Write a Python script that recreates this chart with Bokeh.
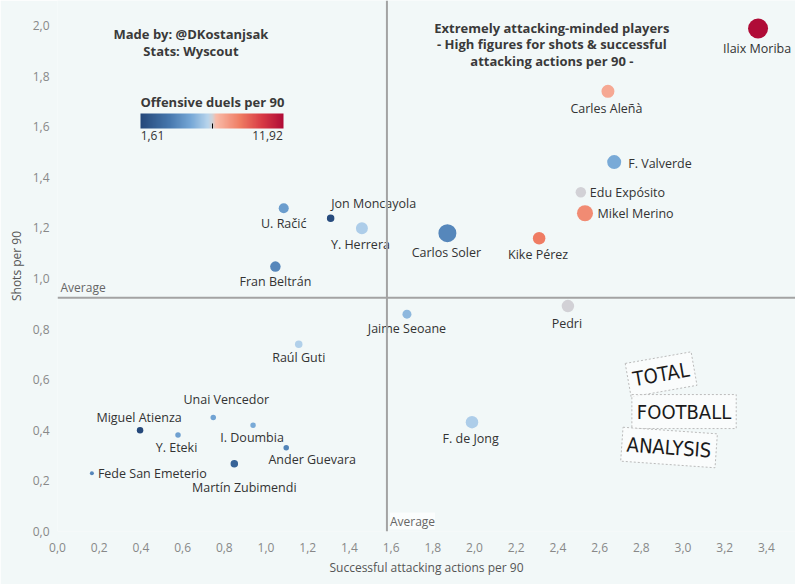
from bokeh.plotting import figure
from bokeh.models import (ColumnDataSource, LinearColorMapper, ColorBar, FixedTicker,
                          Span, Label, CustomJSTickFormatter, Range1d)
from bokeh.core.properties import value
from bokeh.embed import file_html
from bokeh.resources import INLINE

# ---------------- data ----------------
players = ["Ilaix Moriba", "Carles Aleñà", "F. Valverde", "Edu Expósito", "Mikel Merino",
           "Kike Pérez", "Carlos Soler", "Y. Herrera", "Jon Moncayola", "U. Račić",
           "Fran Beltrán", "Jaime Seoane", "Pedri", "Raúl Guti", "F. de Jong",
           "Unai Vencedor", "I. Doumbia", "Miguel Atienza", "Y. Eteki", "Ander Guevara",
           "Martín Zubimendi", "Fede San Emeterio"]
attacking_actions = [3.36, 2.64, 2.67, 2.51, 2.53, 2.31, 1.87, 1.46, 1.31, 1.085,
                     1.045, 1.676, 2.448, 1.157, 1.988, 0.747, 0.938, 0.396, 0.578, 1.097,
                     0.848, 0.165]
shots = [1.988, 1.740, 1.460, 1.341, 1.258, 1.159, 1.179, 1.199, 1.238, 1.278,
         1.047, 0.859, 0.891, 0.740, 0.432, 0.451, 0.420, 0.400, 0.381, 0.331,
         0.268, 0.230]
offensive_duels = [11.92, 7.6, 5.3, 6.77, 8.4, 8.8, 4.2, 6.25, 1.8, 4.9,
                   4.2, 5.7, 6.8, 6.35, 6.25, 5.1, 5.3, 1.61, 5.0, 4.1,
                   2.85, 4.2]
size_metric = [20, 13, 14, 10.5, 16, 12.5, 18, 12, 7.5, 10,
               10.5, 9, 12.5, 7.5, 12.5, 5.5, 5.5, 6.5, 5.5, 5.5,
               7.5, 4]
avg_attacking = 1.58
avg_shots = 0.924
duels_min, duels_max = 1.61, 11.92
duels_mid = 6.77
x_ticks = [0.0, 0.2, 0.4, 0.6, 0.8, 1.0, 1.2, 1.4, 1.6, 1.8, 2.0, 2.2, 2.4, 2.6, 2.8, 3.0, 3.2, 3.4]
y_ticks = [0.0, 0.2, 0.4, 0.6, 0.8, 1.0, 1.2, 1.4, 1.6, 1.8, 2.0]

# label placement (screen px, y down), alignment per player
label_dx = [-1, -1.5, 14, 9, 12.5, -1, -1, -1.5, 0.5, 0,
            0, 0, -1, 0, -1.3, 13, -1, -1, -1.5, 26,
            10, 6]
label_dy = [19.5, 17, 1, 0, 0, 16.5, 19.5, 16.5, -14.5, 15,
            14.7, 14, 17, 13.3, 16.6, -18, 12.5, -12.7, 12.3, 11.7,
            24, 0]
label_align = ["center", "center", "left", "left", "left", "center", "center", "center", "left", "center",
               "center", "center", "center", "center", "center", "center", "center", "center", "center", "center",
               "center", "left"]

# ---------------- style ----------------
BG = "#f2f8f8"
FONT = "Open Sans"
TXT = "#333333"


def hex2rgb(h):
    h = h.lstrip("#")
    return tuple(int(h[i:i + 2], 16) for i in (0, 2, 4))


anchors = [(0.0, "#25487a"), (0.2, "#4677ad"), (0.35, "#75a7d6"), (0.47, "#b7d4ec"),
           (0.5, "#cfd3d9"), (0.53, "#f9bba8"), (0.7, "#ef7b62"), (0.85, "#d83a45"),
           (1.0, "#b00c37")]
palette = []
N = 256
for i in range(N):
    t = i / (N - 1)
    for j in range(len(anchors) - 1):
        t0, c0 = anchors[j]
        t1, c1 = anchors[j + 1]
        if t0 <= t <= t1:
            f = (t - t0) / (t1 - t0)
            a, b = hex2rgb(c0), hex2rgb(c1)
            palette.append("#%02x%02x%02x" % tuple(round(a[k] + (b[k] - a[k]) * f) for k in range(3)))
            break

mapper = LinearColorMapper(palette=palette, low=duels_min, high=duels_max)

W, H = 795, 584
BL, BB = 57, 53
x_span = (W - BL) / 208.5
y_span = (H - BB) / 253.0

p = figure(width=W, height=H, output_backend="svg", toolbar_location=None,
           x_range=Range1d(0, x_span), y_range=Range1d(0, y_span),
           min_border_left=BL, min_border_right=0, min_border_top=0, min_border_bottom=BB,
           background_fill_color=BG, border_fill_color=BG, outline_line_color=None)
p.xgrid.visible = False
p.ygrid.visible = False

fmt = CustomJSTickFormatter(code="return tick.toFixed(1).replace('.', ',');")
for ax, ticks in ((p.xaxis[0], x_ticks), (p.yaxis[0], y_ticks)):
    ax.ticker = FixedTicker(ticks=ticks)
    ax.formatter = fmt
    ax.axis_line_color = None
    ax.major_tick_line_color = None
    ax.minor_tick_line_color = None
    ax.major_tick_in = 0
    ax.major_tick_out = 0
    ax.minor_tick_out = 0
    ax.major_label_text_font = FONT
    ax.major_label_text_font_size = "12px"
    ax.major_label_text_color = "#888888"
    ax.axis_label_text_font = FONT
    ax.axis_label_text_font_size = "12px"
    ax.axis_label_text_font_style = "normal"
    ax.axis_label_text_color = "#555555"

p.xaxis.axis_label = "Successful attacking actions per 90"
p.yaxis.axis_label = "Shots per 90"
p.xaxis.major_label_standoff = 11
p.xaxis.axis_label_standoff = 4
p.yaxis.major_label_standoff = 8
p.yaxis.axis_label_standoff = 5

# average lines
p.add_layout(Span(location=avg_attacking, dimension="height", line_color="#a3a3a3", line_width=2))
p.add_layout(Span(location=avg_shots, dimension="width", line_color="#a3a3a3", line_width=2))
p.add_layout(Label(x=0, y=avg_shots, x_offset=3, y_offset=2, text="Average",
                   text_font=FONT, text_font_size="12px", text_color="#666666",
                   text_baseline="bottom"))
p.add_layout(Label(x=avg_attacking, y=0, x_offset=3, y_offset=2, text="Average",
                   text_font=FONT, text_font_size="12px", text_color="#666666",
                   text_baseline="bottom", background_fill_color="white", background_fill_alpha=0.7))

src = ColumnDataSource(dict(x=attacking_actions, y=shots, duels=offensive_duels,
                            size=size_metric, name=players, dx=label_dx, dy=label_dy,
                            align=label_align))
p.scatter("x", "y", source=src, size="size", line_color=None,
          fill_color={"field": "duels", "transform": mapper})
p.text("x", "y", text="name", source=src, x_offset="dx", y_offset="dy",
       text_align="align", text_baseline="middle", text_font=value(FONT),
       text_font_size="12.5px", text_color=TXT)

# annotations
for txt, yy in (("Made by: @DKostanjsak", 1.968), ("Stats: Wyscout", 1.901)):
    p.add_layout(Label(x=0.64, y=yy, text=txt, text_align="center", text_baseline="middle",
                       text_font=FONT, text_font_size="13px", text_font_style="bold",
                       text_color="#3a3a3a"))
for txt, yy in (("Extremely attacking-minded players", 1.992),
                ("- High figures for shots & successful", 1.925),
                ("attacking actions per 90 -", 1.858)):
    p.add_layout(Label(x=2.371, y=yy, text=txt, text_align="center", text_baseline="middle",
                       text_font=FONT, text_font_size="13px", text_font_style="bold",
                       text_color="#3a3a3a"))

# logo
for txt, xx, yy, ang in (("TOTAL", 2.895, 0.621, 10), ("FOOTBALL", 3.005, 0.474, 0),
                         ("ANALYSIS", 2.933, 0.332, -4)):
    p.add_layout(Label(x=xx, y=yy, text=txt, angle=ang, angle_units="deg",
                       text_align="center", text_baseline="middle",
                       text_font="DejaVu Sans Condensed", text_font_size="20px",
                       text_color="#1a1a1a", border_line_color="#bbbbbb",
                       border_line_dash="2 2", border_line_width=1,
                       background_fill_color="#fbfdfd", background_fill_alpha=0.8,
                       padding=5))

# colour bar
span_d = duels_max - duels_min
lab_lo = round(duels_min + 12 / 143 * span_d, 3)
lab_hi = round(duels_max - 16 / 143 * span_d, 3)
cb = ColorBar(color_mapper=mapper, orientation="horizontal", width=143, height=15,
              location=(83, 389), padding=0,
              ticker=FixedTicker(ticks=[lab_lo, lab_hi], minor_ticks=[duels_mid]),
              major_label_overrides={lab_lo: "1,61", lab_hi: "11,92"},
              major_tick_line_color=None, minor_tick_line_color="black",
              minor_tick_in=5, minor_tick_out=0,
              title="Offensive duels per 90", title_text_font=FONT,
              title_text_font_style="bold", title_text_font_size="13px",
              title_text_color="#3a3a3a", title_standoff=6,
              major_label_text_font=FONT, major_label_text_font_size="12px",
              major_label_text_color="#333333", label_standoff=2,
              background_fill_color=None, border_line_color=None, bar_line_color=None)
p.add_layout(cb, "center")

open("out.html", "w").write(file_html(p, INLINE))
